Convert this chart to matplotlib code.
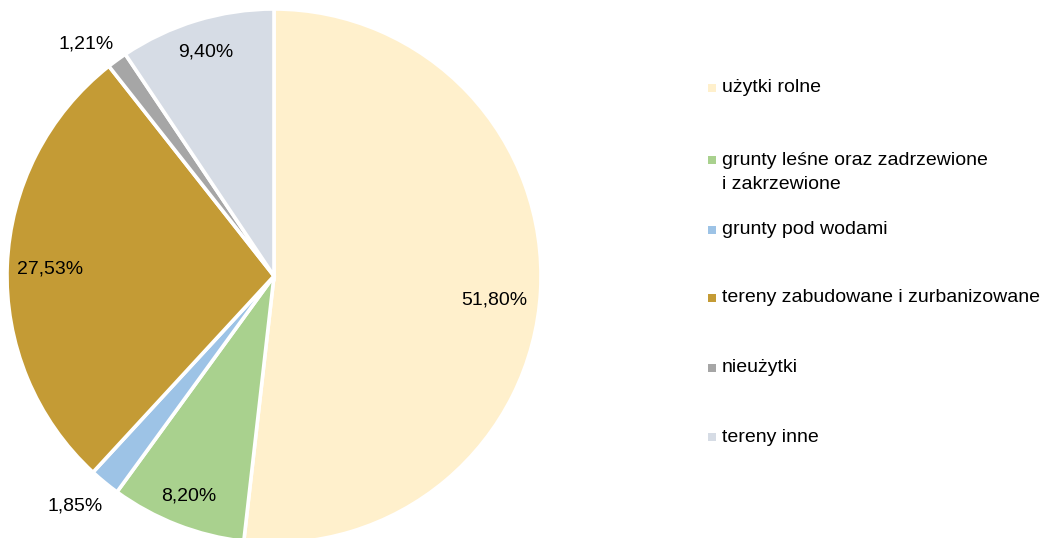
import matplotlib.pyplot as plt
import numpy as np
from matplotlib.patches import Rectangle

plt.rcParams['font.family'] = ['Liberation Sans', 'DejaVu Sans']

# data
categories = ["użytki rolne",
              "grunty leśne oraz zadrzewione\ni zakrzewione",
              "grunty pod wodami",
              "tereny zabudowane i zurbanizowane",
              "nieużytki",
              "tereny inne"]
shares = [51.80, 8.20, 1.85, 27.53, 1.21, 9.40]
pct_labels = ["51,80%", "8,20%", "1,85%", "27,53%", "1,21%", "9,40%"]

colors = ["#FFF0CC", "#A9D18E", "#9DC3E6", "#C49B35", "#A6A6A6", "#D6DCE5"]
# label placement: radius fraction and angular nudge (deg) from wedge middle
label_r = [0.83, 0.885, 1.14, 0.84, 1.12, 0.875]
label_shift = [-3.0, 0.0, -1.5, 0.5, 3.0, 0.0]

W, H = 1048, 538
fig = plt.figure(figsize=(W / 100, H / 100), dpi=100)

# pie axes, centre ~(274, 276) px, radius ~267 px
cx, cy, rad = 274, 276, 267
ax = fig.add_axes([(cx - rad) / W, (H - cy - rad) / H, 2 * rad / W, 2 * rad / H])
wedges, _ = ax.pie(shares, colors=colors, startangle=90, counterclock=False,
                   radius=1.0, wedgeprops=dict(edgecolor="white", linewidth=2.6))
for w in wedges:
    w.set_clip_on(False)
ax.set_xlim(-1, 1)
ax.set_ylim(-1, 1)
ax.set_aspect("equal")
ax.axis("off")

# percentage labels
for w, txt, r, d in zip(wedges, pct_labels, label_r, label_shift):
    mid = np.deg2rad((w.theta1 + w.theta2) / 2 + d)
    ax.text(r * np.cos(mid), r * np.sin(mid), txt, ha="center", va="center",
            fontsize=14, color="#000000", clip_on=False)

# legend laid out like the original (evenly spaced slots)
legend_y = [88, 160, 230, 298, 368, 437]
for lab, col, y in zip(categories, colors, legend_y):
    fig.add_artist(Rectangle((708 / W, (H - y - 4) / H), 8 / W, 8 / H,
                             transform=fig.transFigure, facecolor=col,
                             edgecolor="none"))
    nlines = lab.count("\n")
    fig.text(722 / W, (H - y - 12.5 * nlines) / H, lab, ha="left", va="center",
             fontsize=14, color="#000000", linespacing=1.55)

fig.savefig("out.png", dpi=100)
